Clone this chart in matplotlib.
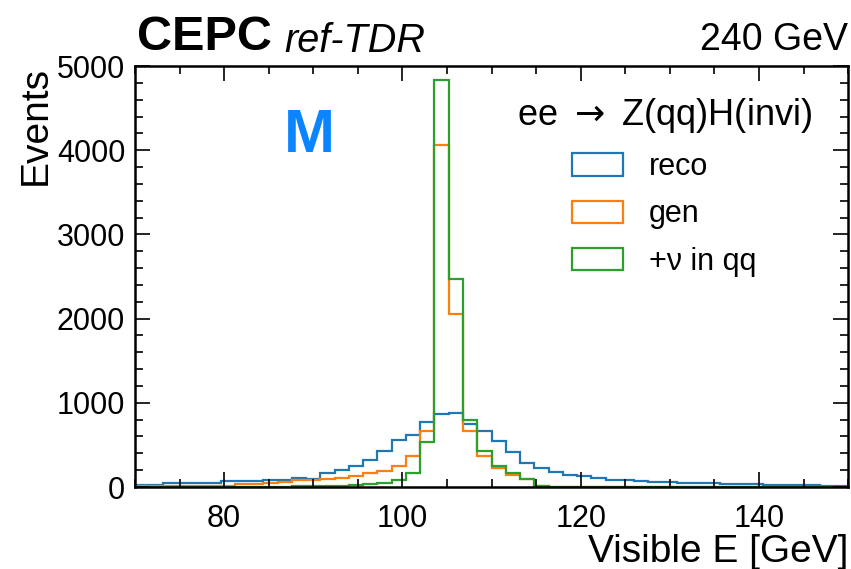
"""Visible energy of ee -> Z(qq)H(invi) at 240 GeV: reco vs gen vs gen+neutrinos."""

import matplotlib

matplotlib.use("Agg")
import matplotlib.pyplot as plt
import numpy as np
from matplotlib.patches import Patch
from matplotlib.ticker import MultipleLocator

plt.rcParams["font.family"] = ["Liberation Sans", "DejaVu Sans"]

# 50 bins of 1.6 GeV between 70 and 150 GeV
X_MIN, X_MAX, N_BINS = 70, 150, 50
BIN_EDGES = np.linspace(X_MIN, X_MAX, N_BINS + 1)

RECO = [25, 25, 45, 45, 45, 45, 70, 70, 70, 80,
        80, 110, 100, 167, 200, 255, 320, 430, 555, 620,
        770, 868, 880, 748, 669, 550, 411, 285, 226, 180,
        145, 125, 110, 88, 85, 70, 62, 55, 52, 45,
        42, 38, 36, 30, 28, 26, 24, 18, 17, 15]
GEN = [15, 15, 15, 15, 15, 15, 15, 30, 30, 45,
       60, 85, 85, 92, 107, 127, 163, 194, 253, 372,
       665, 4060, 2060, 669, 368, 226, 138, 95, 10, 0,
       0, 0, 0, 0, 0, 0, 0, 0, 0, 0,
       0, 0, 0, 0, 0, 0, 0, 0, 0, 0]
GEN_NU = [0, 0, 0, 0, 0, 0, 0, 0, 0, 0,
          0, 12, 12, 12, 12, 24, 36, 51, 83, 172,
          530, 4830, 2473, 800, 432, 253, 166, 99, 10, 0,
          0, 0, 0, 0, 0, 0, 0, 0, 0, 0,
          0, 0, 0, 0, 0, 0, 0, 0, 0, 0]

SERIES = [("reco", RECO, "#1f77b4"),
          ("gen", GEN, "#ff7f0e"),
          ("+ν in qq", GEN_NU, "#2ca02c")]


def main() -> None:
    fig = plt.figure(figsize=(8.51, 5.69), dpi=100)
    ax = fig.add_axes([0.1586, 0.1441, 0.838, 0.7399])

    for label, values, color in SERIES:
        ax.stairs(values, BIN_EDGES, color=color, lw=1.6, label=label)

    ax.set_xlim(X_MIN, X_MAX)
    ax.set_ylim(0, 5000)
    ax.xaxis.set_major_locator(MultipleLocator(20))
    ax.xaxis.set_minor_locator(MultipleLocator(5))
    ax.yaxis.set_major_locator(MultipleLocator(1000))
    ax.yaxis.set_minor_locator(MultipleLocator(200))
    ax.tick_params(which="both", direction="in", top=True, right=True,
                   labelsize=22, width=1.2)
    ax.tick_params(which="major", length=11)
    ax.tick_params(which="minor", length=6)
    ax.tick_params(axis="x", which="major", pad=12)
    ax.tick_params(axis="y", which="major", pad=7)
    for sp in ax.spines.values():
        sp.set_linewidth(1.8)

    ax.set_xlabel("Visible E [GeV]", fontsize=28, loc="right", labelpad=0)
    ax.set_ylabel("Events", fontsize=28, loc="top", labelpad=2)

    handles = [Patch(facecolor="none", edgecolor=c, lw=1.6, label=l)
               for l, _, c in SERIES]
    ax.legend(handles=handles, title=r"ee $\rightarrow$ Z(qq)H(invi)",
              loc="upper center", bbox_to_anchor=(0.742, 0.966),
              frameon=False, fontsize=22, title_fontsize=26,
              handlelength=1.65, handleheight=0.75, handletextpad=0.85,
              labelspacing=0.57, borderpad=0)

    ax.text(0.245, 0.832, "M", transform=ax.transAxes, ha="center",
            va="center", fontsize=44, fontweight="bold", color="#0a84ff")

    cepc = ax.text(0.003, 1.038, "CEPC", transform=ax.transAxes, ha="left",
                   va="baseline", fontsize=35, fontweight="bold")
    ax.annotate("ref-TDR", xy=(1, 0), xycoords=cepc, xytext=(12, 0),
                textcoords="offset pixels", ha="left", va="bottom",
                fontsize=28.5, fontstyle="italic")
    ax.text(1.0, 1.038, "240 GeV", transform=ax.transAxes, ha="right",
            va="baseline", fontsize=27)

    fig.savefig("out.png", dpi=100)
    plt.close(fig)


if __name__ == "__main__":
    main()
